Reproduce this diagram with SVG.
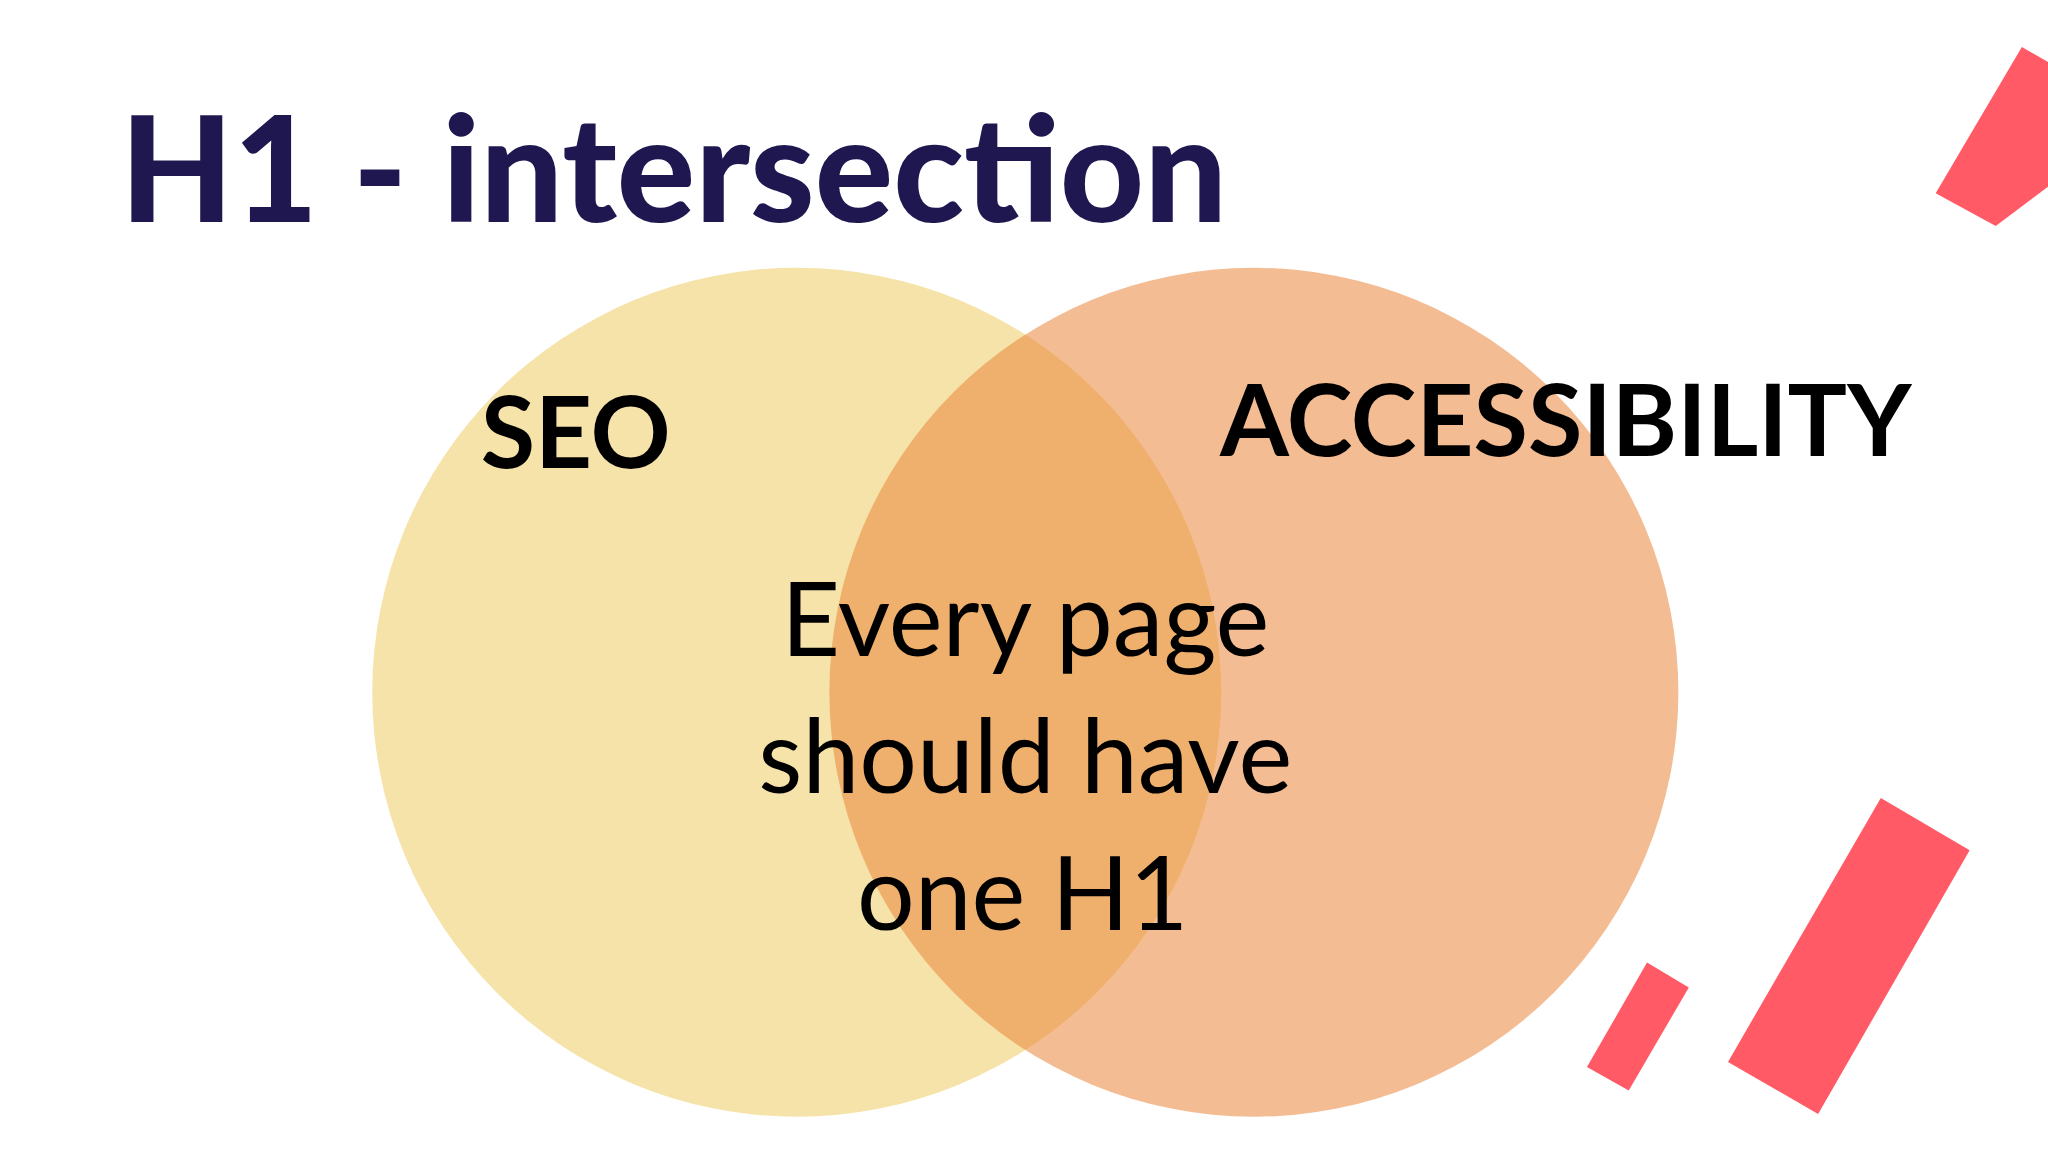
<svg xmlns="http://www.w3.org/2000/svg" width="2048" height="1152" viewBox="0 0 2048 1152">
<style>
.t{font-family:Lato,"Liberation Sans",sans-serif}
.bar{fill:#ff5a66}
</style>
<rect width="2048" height="1152" fill="#ffffff"/>
<g transform="scale(1.30612)">
<g id="title"><text class="t" x="92" y="170" font-size="112" font-weight="900" fill="#1f1750">H1 - intersection</text></g>
<g id="seo-circle"><circle cx="610" cy="530" r="325" fill="#f5e3aa"/></g>
<g id="accessibility-circle"><circle cx="960" cy="530" r="325" fill="#ec8940" fill-opacity="0.57"/></g>
<g id="seo-label"><text class="t" x="368" y="358" font-size="76" font-weight="700" fill="#000">SEO</text></g>
<g id="accessibility-label"><text class="t" x="934" y="349" font-size="76" font-weight="700" fill="#000">ACCESSIBILITY</text></g>
<g id="intersection-label" class="t" font-size="78" fill="#000" text-anchor="middle">
<text x="785" y="502">Every page</text>
<text x="785" y="607">should have</text>
<text x="783" y="712">one H1</text>
</g>
<g id="decor">
<polygon class="bar" points="1548,36 1640,89 1528,173 1482,148"/>
<polygon class="bar" points="1440,611 1508,651 1392,853 1323,813"/>
<polygon class="bar" points="1261,737 1293,756 1247,835 1215,817"/>
</g>
</g>
</svg>
